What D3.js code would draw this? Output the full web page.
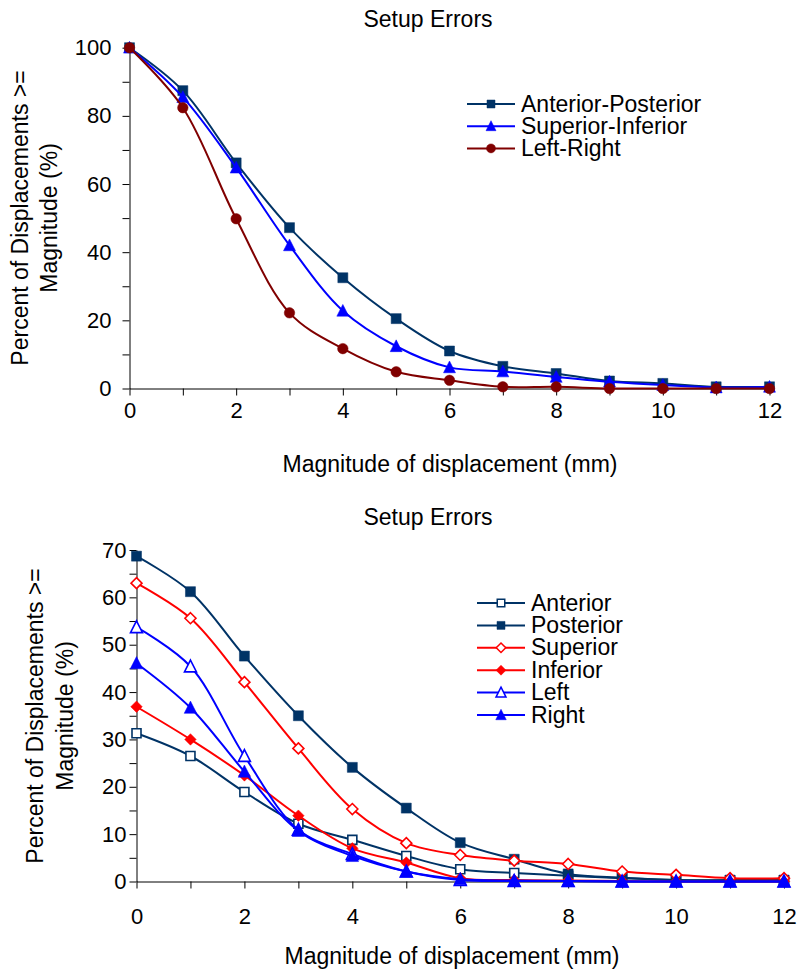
<!DOCTYPE html>
<html><head><meta charset="utf-8">
<script src="https://cdn.jsdelivr.net/npm/d3@7"></script>
<style>
body{margin:0;background:#fff}
svg{display:block}
text{font-family:"Liberation Sans",Arial,sans-serif;fill:#000}
</style>
</head><body><svg id="c" width="798" height="971"></svg>
<script>
// ---------- data ----------
const magnitudes = [0,1,2,3,4,5,6,7,8,9,10,11,12];
const xTickValues = [0,1,2,3,4,5,6,7,8,9,10,11,12];
const xTickLabels = [0,2,4,6,8,10,12];

const topYTickValues = [0,10,20,30,40,50,60,70,80,90,100];
const topYTickLabels = [0,20,40,60,80,100];
const bottomYTickValues = [0,5,10,15,20,25,30,35,40,45,50,55,60,65,70];
const bottomYTickLabels = [0,10,20,30,40,50,60,70];

const topSeriesNames = ["Anterior-Posterior","Superior-Inferior","Left-Right"];
const antPost  = [100,87.4,66.2,47.2,32.5,20.5,11.0,6.5,4.4,2.2,1.5,0.5,0.5];
const supInf   = [100,85.5,64.8,42.0,22.8,12.4,6.2,5.0,3.4,2.0,1.0,0.3,0.5];
const leftRight= [100,82.4,49.8,22.2,11.7,4.9,2.4,0.5,0.5,0,0,0,0];

const bottomSeriesNames = ["Anterior","Posterior","Superior","Inferior","Left","Right"];
const anterior  = [31.3,26.5,18.9,12.2,8.8,5.4,2.6,1.8,1.2,0.7,0.3,0.2,0.2];
const posterior = [68.7,61.2,47.6,35.0,24.1,15.5,8.2,4.7,1.6,0.8,0.3,0.3,0.3];
const superior  = [63.0,55.6,42.1,28.1,15.3,8.1,5.6,4.4,3.7,2.1,1.4,0.7,0.7];
const inferior  = [36.9,30.0,22.4,13.9,7.0,4.0,0.7,0.3,0.2,0.1,0,0,0];
const left      = [53.7,45.4,26.5,10.9,5.8,2.1,0.3,0.1,0.1,0,0,0,0];
const right     = [46.1,36.7,23.2,10.7,5.4,2.1,0.5,0.2,0.1,0,0,0,0];

const chartTitle = "Setup Errors";
const xTitle = "Magnitude of displacement (mm)";
const yTitleLines = ["Percent of Displacements >=","Magnitude (%)"];

// ---------- drawing ----------
const svg = d3.select("#c");
const FONT = 23, TICKFONT = 22;

function markerPath(type, s){
  if(type==="square") return d3.symbol(d3.symbolSquare, s*s)();
  if(type==="circle") return d3.symbol(d3.symbolCircle, Math.PI*(s/2)*(s/2))();
  if(type==="triangle"){
    const h = s*0.9, w = s/2;
    return `M0,${-h/2-1}L${w},${h/2}L${-w},${h/2}Z`;
  }
  if(type==="diamond"){
    const r = s/2;
    return `M0,${-r}L${r},0L0,${r}L${-r},0Z`;
  }
}

function drawChart(cfg){
  const g = svg.append("g");
  const x = d3.scaleLinear().domain([0,12]).range([cfg.x0, cfg.x1]);
  const y = d3.scaleLinear().domain([0,cfg.yMax]).range([cfg.yBottom, cfg.yTop]);

  const ya = d3.axisLeft(y).tickValues(cfg.yTicks)
    .tickFormat(d => cfg.yLabels.includes(d) ? d : "")
    .tickSize(7).tickSizeOuter(0).tickPadding(cfg.yPad);
  const yg = g.append("g").attr("transform",`translate(${cfg.x0},0)`).call(ya);

  const xa = d3.axisBottom(x).tickValues(xTickValues)
    .tickFormat(d => xTickLabels.includes(d) ? d : "")
    .tickSize(7).tickSizeOuter(0).tickPadding(cfg.xPad);
  const xg = g.append("g").attr("transform",`translate(0,${cfg.yBottom})`).call(xa);

  [yg,xg].forEach(a=>{
    a.attr("font-family",null).attr("font-size",null);
    a.selectAll("text").style("font-size",TICKFONT+"px").attr("fill","#000");
    a.selectAll("line,path").attr("stroke","#000").attr("stroke-width",1);
  });

  // titles
  g.append("text").attr("x",cfg.titleX).attr("y",cfg.titleY)
    .attr("text-anchor","middle").style("font-size",FONT+"px").text(chartTitle);
  g.append("text").attr("x",cfg.xTitleX).attr("y",cfg.xTitleY)
    .attr("text-anchor","middle").style("font-size",FONT+"px").text(xTitle);
  yTitleLines.forEach((t,i)=>{
    g.append("text").attr("transform",`translate(${cfg.yTitleBase[i]},${cfg.yTitleCY}) rotate(-90)`)
      .attr("text-anchor","middle").style("font-size",FONT+"px").text(t);
  });

  const line = d3.line().x((d,i)=>x(magnitudes[i])).y(d=>y(d)).curve(d3.curveCatmullRom.alpha(0.5));

  cfg.series.forEach(s=>{
    const sg = g.append("g");
    sg.append("path").attr("d",line(s.values)).attr("fill","none")
      .attr("stroke",s.color).attr("stroke-width",2);
    sg.selectAll("path.m").data(s.values).enter().append("path").attr("class","m")
      .attr("transform",(d,i)=>`translate(${x(magnitudes[i])},${y(d)})`)
      .attr("d",markerPath(s.marker,s.size))
      .attr("fill",s.filled ? s.color : "#fff")
      .attr("stroke",s.color).attr("stroke-width",s.filled?0.5:1.6);
  });

  // legend
  const lg = g.append("g");
  cfg.series.forEach((s,i)=>{
    const ry = cfg.legY + i*cfg.legStep;
    lg.append("line").attr("x1",cfg.legX0).attr("x2",cfg.legX1).attr("y1",ry).attr("y2",ry)
      .attr("stroke",s.color).attr("stroke-width",2);
    lg.append("path").attr("transform",`translate(${(cfg.legX0+cfg.legX1)/2},${ry})`)
      .attr("d",markerPath(s.marker,s.legSize))
      .attr("fill",s.filled ? s.color : "#fff")
      .attr("stroke",s.color).attr("stroke-width",s.filled?0.5:1.5);
    lg.append("text").attr("x",cfg.legTextX).attr("y",ry+7.5)
      .style("font-size",FONT+"px").text(s.name);
  });
}

const NAVY = "#003366", BLUE = "#0000ff", DRED = "#800000", RED = "#ff0000";

drawChart({
  x0:129.5, x1:769.5, yBottom:388.5, yTop:47.7, yMax:100,
  yTicks: topYTickValues, yLabels: topYTickLabels, yPad:11, xPad:6.5,
  titleX:428, titleY:27, xTitleX:450, xTitleY:472,
  yTitleBase:[27.5,56.5], yTitleCY:218,
  legX0:467, legX1:515, legTextX:521, legY:104, legStep:22.2,
  series:[
    {name:topSeriesNames[0], values:antPost, color:NAVY, marker:"square", filled:true, size:10, legSize:8},
    {name:topSeriesNames[1], values:supInf, color:BLUE, marker:"triangle", filled:true, size:12, legSize:10},
    {name:topSeriesNames[2], values:leftRight, color:DRED, marker:"circle", filled:true, size:10.5, legSize:9}
  ]
});

drawChart({
  x0:136.5, x1:784, yBottom:881.5, yTop:550, yMax:70,
  yTicks: bottomYTickValues, yLabels: bottomYTickLabels, yPad:3, xPad:19.5,
  titleX:428, titleY:525, xTitleX:452, xTitleY:964,
  yTitleBase:[42.5,72.5], yTitleCY:716,
  legX0:477, legX1:525, legTextX:531, legY:603, legStep:22.4,
  series:[
    {name:bottomSeriesNames[0], values:anterior, color:NAVY, marker:"square", filled:false, size:9, legSize:7.5},
    {name:bottomSeriesNames[1], values:posterior, color:NAVY, marker:"square", filled:true, size:10, legSize:8},
    {name:bottomSeriesNames[2], values:superior, color:RED, marker:"diamond", filled:false, size:11, legSize:9.5},
    {name:bottomSeriesNames[3], values:inferior, color:RED, marker:"diamond", filled:true, size:11.5, legSize:10},
    {name:bottomSeriesNames[4], values:left, color:BLUE, marker:"triangle", filled:false, size:12, legSize:10},
    {name:bottomSeriesNames[5], values:right, color:BLUE, marker:"triangle", filled:true, size:12.5, legSize:10.5}
  ]
});
</script>
</body></html>
